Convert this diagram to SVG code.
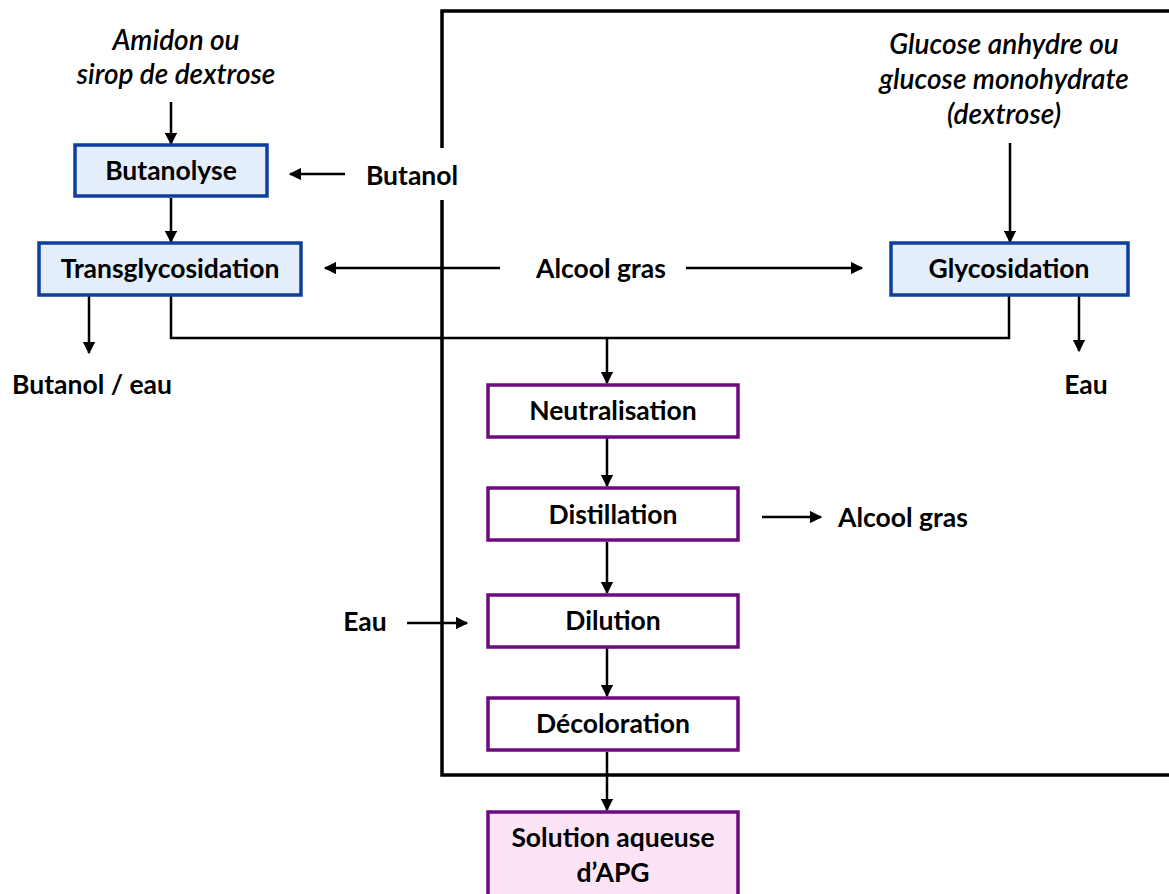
<svg xmlns="http://www.w3.org/2000/svg" width="1169" height="894" viewBox="0 0 1169 894">
  <style>
    .lbl { font-family: Lato, "Liberation Sans", sans-serif; font-weight: bold; font-size: 26.5px; fill: #000; text-anchor: middle; }
    .src { font-family: Lato, "Liberation Sans", sans-serif; font-style: italic; font-weight: 600; font-size: 28px; fill: #000; text-anchor: middle; }
    .blue { fill: #E3EEFA; stroke: #0E3F9A; stroke-width: 3.5; }
    .purple { fill: #FFFFFF; stroke: #6C0A7E; stroke-width: 3.5; }
    .pink { fill: #FCE4F6; stroke: #6C0A7E; stroke-width: 3.5; }
    .wire { fill: none; stroke: #000; stroke-width: 2.5; }
    .arrow { fill: none; stroke: #000; stroke-width: 2.5; marker-end: url(#head); }
    .frame { fill: none; stroke: #000; stroke-width: 3.5; }
  </style>
  <defs>
    <marker id="head" viewBox="0 0 10 10" refX="9" refY="5" markerWidth="5" markerHeight="5" orient="auto" markerUnits="strokeWidth">
      <path d="M0,0 L10,5 L0,10 Z" fill="#000"/>
    </marker>
  </defs>
  <rect width="1169" height="894" fill="#fff"/>

  <!-- enclosing frame (left side broken around the Butanol label) -->
  <g id="frame">
    <path class="frame" d="M442,148 V11 H1175"/>
    <path class="frame" d="M442,200 V775 H1175"/>
  </g>

  <!-- free-standing feed / product labels -->
  <g id="labels">
    <text class="src" x="176" y="50">Amidon ou</text>
    <text class="src" x="176" y="84">sirop de dextrose</text>
    <text class="src" x="1004" y="54">Glucose anhydre ou</text>
    <text class="src" x="1004" y="89">glucose monohydrate</text>
    <text class="src" x="1004" y="124">(dextrose)</text>
    <text class="lbl" x="412" y="185">Butanol</text>
    <text class="lbl" x="601" y="278">Alcool gras</text>
    <text class="lbl" x="92" y="394">Butanol / eau</text>
    <text class="lbl" x="1086" y="394">Eau</text>
    <text class="lbl" x="903" y="527">Alcool gras</text>
    <text class="lbl" x="365" y="631">Eau</text>
  </g>

  <!-- connectors -->
  <g id="connectors">
    <path class="arrow" d="M171,102 V144"/>
    <path class="arrow" d="M345,174 H290"/>
    <path class="arrow" d="M171,198 V242"/>
    <path class="arrow" d="M500,268 H325"/>
    <path class="arrow" d="M686,268 H862"/>
    <path class="arrow" d="M1010,143 V242"/>
    <path class="arrow" d="M89,296 V353"/>
    <path class="arrow" d="M1079,296 V351"/>
    <path class="wire" d="M171,296 V338 H1009 V296"/>
    <path class="arrow" d="M607,338 V383"/>
    <path class="arrow" d="M607,438 V486"/>
    <path class="arrow" d="M607,542 V593"/>
    <path class="arrow" d="M407,623 H467"/>
    <path class="arrow" d="M607,648 V696"/>
    <path class="arrow" d="M762,517 H821"/>
    <path class="arrow" d="M607,752 V810"/>
  </g>

  <!-- process steps -->
  <g id="butanolyse">
    <rect class="blue" x="75" y="145" width="192" height="51"/>
    <text class="lbl" x="171" y="180">Butanolyse</text>
  </g>
  <g id="transglycosidation">
    <rect class="blue" x="39" y="243" width="262" height="52"/>
    <text class="lbl" x="170" y="278">Transglycosidation</text>
  </g>
  <g id="glycosidation">
    <rect class="blue" x="891" y="243" width="237" height="52"/>
    <text class="lbl" x="1009" y="278">Glycosidation</text>
  </g>
  <g id="neutralisation">
    <rect class="purple" x="488" y="385" width="250" height="52"/>
    <text class="lbl" x="613" y="420">Neutralisation</text>
  </g>
  <g id="distillation">
    <rect class="purple" x="488" y="488" width="250" height="52"/>
    <text class="lbl" x="613" y="524">Distillation</text>
  </g>
  <g id="dilution">
    <rect class="purple" x="488" y="595" width="250" height="52"/>
    <text class="lbl" x="613" y="630">Dilution</text>
  </g>
  <g id="decoloration">
    <rect class="purple" x="488" y="698" width="250" height="52"/>
    <text class="lbl" x="613" y="733">Décoloration</text>
  </g>
  <g id="solution">
    <rect class="pink" x="488" y="812" width="250" height="100"/>
    <text class="lbl" x="613" y="847">Solution aqueuse</text>
    <text class="lbl" x="613" y="882">d’APG</text>
  </g>
</svg>
